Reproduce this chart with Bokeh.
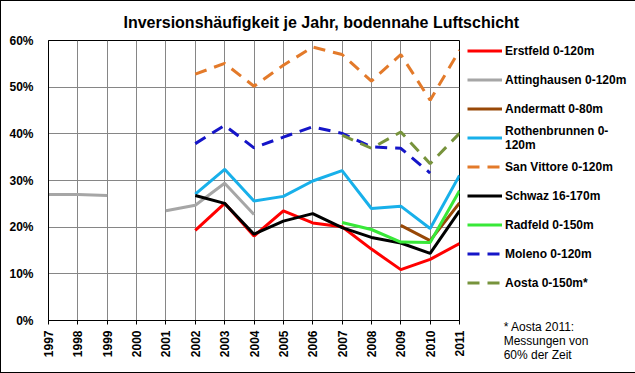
import math
import numpy as np
from bokeh.plotting import figure
from bokeh.models import (Range1d, FixedTicker, PrintfTickFormatter, Legend, LegendItem)
from bokeh.embed import file_html
from bokeh.resources import INLINE

years = list(range(1997, 2012))
N = None

erstfeld      = [N, N, N, N, N, 19.3, 25.1, 18.1, 23.5, 20.9, 20.1, 15.3, 10.9, 13.1, 16.5]
attinghausen  = [27.0, 27.0, 26.8, N, 23.5, 24.7, 29.4, 22.7, N, N, N, N, N, N, N]
andermatt     = [N, N, N, N, N, N, N, N, N, N, N, N, 20.4, 17.1, 25.2]
rothenbrunnen = [N, N, N, N, N, 27.1, 32.4, 25.6, 26.6, 29.9, 32.1, 24.0, 24.5, 19.7, 31.1]
san_vittore   = [N, N, N, N, N, 52.8, 55.1, 50.2, 54.7, 58.6, 57.0, 51.3, 57.0, 47.2, 57.9]
schwaz        = [N, N, N, N, N, 26.8, 25.1, 18.5, 21.3, 22.9, 19.9, 17.8, 16.6, 14.4, 23.5]
radfeld       = [N, N, N, N, N, N, N, N, N, N, 21.0, 19.5, 16.8, 16.7, 27.8]
moleno        = [N, N, N, N, N, 37.9, 41.8, 37.0, 39.3, 41.5, 40.1, 37.2, 36.9, 31.6, N]
aosta         = [N, N, N, N, N, N, N, N, N, N, 39.7, 36.9, 40.4, 33.6, 40.1]

labels = ["Erstfeld 0-120m", "Attinghausen 0-120m", "Andermatt 0-80m",
          "Rothenbrunnen 0-\n120m", "San Vittore 0-120m", "Schwaz 16-170m",
          "Radfeld 0-150m", "Moleno 0-120m", "Aosta 0-150m*"]
series = [erstfeld, attinghausen, andermatt, rothenbrunnen, san_vittore,
          schwaz, radfeld, moleno, aosta]
colors = ["#ff0000", "#a6a6a6", "#984807", "#18b0ea", "#e37a2a",
          "#000000", "#38e838", "#1515c8", "#77933c"]
dashes = ["solid", "solid", "solid", "solid", "12 8",
          "solid", "solid", "12 8", "12 8"]

title_text = "Inversionshäufigkeit je Jahr, bodennahe Luftschicht"
note_lines = ["* Aosta 2011:", "Messungen von", "60% der Zeit"]
y_ticks = [0, 10, 20, 30, 40, 50, 60]

FONT = "Liberation Sans"
INDENT = "\u00a0" * 11

p = figure(frame_width=411, frame_height=280, output_backend="svg", toolbar_location=None,
           x_range=Range1d(1997, 2011), y_range=Range1d(0, 60),
           min_border_left=47, min_border_right=175, min_border_top=39,
           min_border_bottom=52)
p.styles = {"border": "1px solid black"}
p.background_fill_color = "white"
p.border_fill_color = "white"
p.outline_line_color = "black"
p.outline_line_width = 1

p.title.text = title_text
p.title.text_font = FONT
p.title.text_font_size = "16px"
p.title.text_font_style = "bold"
p.title.text_color = "black"
p.title.align = "left"
p.title.offset = 75
p.title.vertical_align = "bottom"
p.title.standoff = 19

for ax in (p.xaxis[0], p.yaxis[0]):
    ax.axis_line_color = "black"
    ax.major_tick_line_color = "black"
    ax.minor_tick_line_color = None
    ax.major_label_text_font = FONT
    ax.major_label_text_font_size = "12px"
    ax.major_label_text_font_style = "bold"
    ax.major_label_text_color = "black"

p.xaxis.ticker = FixedTicker(ticks=years)
p.xaxis.major_label_orientation = math.pi / 2
p.xaxis.major_tick_out = 4
p.xaxis.major_tick_in = 0
p.xaxis.major_label_standoff = 6

p.yaxis.ticker = FixedTicker(ticks=y_ticks)
p.yaxis.formatter = PrintfTickFormatter(format="%d%%")
p.yaxis.major_tick_out = 0
p.yaxis.major_tick_in = 0
p.yaxis.major_label_standoff = 15

p.xgrid.ticker = FixedTicker(ticks=years)
p.ygrid.ticker = FixedTicker(ticks=y_ticks)
for g in (p.xgrid[0], p.ygrid[0]):
    g.grid_line_color = "#868686"
    g.grid_line_width = 1

items = []
for lab, ys, c, d in zip(labels, series, colors, dashes):
    yy = [np.nan if v is None else v for v in ys]
    r = p.line(years, yy, line_color=c, line_width=3, line_dash=d)
    items.append(LegendItem(label=lab, renderers=[r]))

note_text = "\n".join(INDENT + s for s in note_lines)

legend = Legend(items=items, location=(8, -42), padding=0, margin=0, spacing=0,
                label_height=29, glyph_height=29, glyph_width=35, label_standoff=3,
                label_text_font=FONT, label_text_font_size="12px",
                label_text_font_style="bold", label_text_color="black",
                title=note_text, title_location="below", title_standoff=23,
                title_text_font=FONT, title_text_font_size="12px",
                title_text_font_style="normal", title_text_color="black",
                border_line_color=None, background_fill_alpha=0)
p.add_layout(legend, "right")

open("out.html", "w").write(file_html(p, INLINE))
